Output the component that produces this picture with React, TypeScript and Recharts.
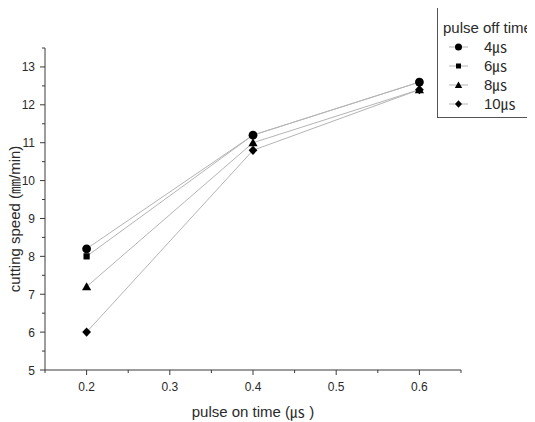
import React from 'react';
import { LineChart, Line, XAxis, YAxis, Legend } from 'recharts';

const pulseOnTime = [0.2, 0.4, 0.6];
const off4 = [8.2, 11.2, 12.6];
const off6 = [8.0, 11.2, 12.6];
const off8 = [7.2, 11.0, 12.4];
const off10 = [6.0, 10.8, 12.4];
const seriesNames = ['4㎲', '6㎲', '8㎲', '10㎲'];
const seriesKeys = ['s4', 's6', 's8', 's10'];
const seriesShapes = ['circle', 'square', 'triangle', 'diamond'];

const xTicks = [0.15, 0.2, 0.25, 0.3, 0.35, 0.4, 0.45, 0.5, 0.55, 0.6, 0.65];
const xTickLabels = ['', '0.2', '', '0.3', '', '0.4', '', '0.5', '', '0.6', ''];
const yTicks = [5, 5.5, 6, 6.5, 7, 7.5, 8, 8.5, 9, 9.5, 10, 10.5, 11, 11.5, 12, 12.5, 13, 13.5];
const yTickLabels = ['5', '', '6', '', '7', '', '8', '', '9', '', '10', '', '11', '', '12', '', '13', ''];

const data = pulseOnTime.map((x, i) => ({ x, s4: off4[i], s6: off6[i], s8: off8[i], s10: off10[i] }));

const FONT = 'Arial, "Liberation Sans", "Noto Sans CJK SC", sans-serif';
const AXIS = '#3a3a3a';
const LINE = '#b4b4b4';
const TEXT = '#2a2a2a';

function Marker({ shape, cx, cy, r }: { shape: string; cx: number; cy: number; r: number }) {
  if (shape === 'circle') return <circle cx={cx} cy={cy} r={r * 1.1} fill="#000" />;
  if (shape === 'square') return <rect x={cx - r * 0.78} y={cy - r * 0.78} width={r * 1.56} height={r * 1.56} fill="#000" />;
  if (shape === 'triangle')
    return <polygon points={`${cx},${cy - r * 1.1} ${cx + r * 1.15},${cy + r * 0.9} ${cx - r * 1.15},${cy + r * 0.9}`} fill="#000" />;
  return <polygon points={`${cx},${cy - r * 1.15} ${cx + r * 1.1},${cy} ${cx},${cy + r * 1.15} ${cx - r * 1.1},${cy}`} fill="#000" />;
}

const makeDot = (shape: string) => (props: any) => {
  const { cx, cy, index } = props;
  if (cx == null || cy == null) return <g key={`${shape}-${index}`} />;
  return (
    <g key={`${shape}-${index}`}>
      <Marker shape={shape} cx={cx} cy={cy} r={4} />
    </g>
  );
};

const XTick = (props: any) => {
  const { x, y, index } = props;
  const label = xTickLabels[index] ?? '';
  const major = label !== '';
  return (
    <g>
      <line x1={x} y1={y} x2={x} y2={y + (major ? 5 : 3)} stroke={AXIS} strokeWidth={1} />
      {major && (
        <text x={x} y={y + 21} textAnchor="middle" fontSize={12} fontFamily={FONT} fill={TEXT}>
          {label}
        </text>
      )}
    </g>
  );
};

const YTick = (props: any) => {
  const { x, y, index } = props;
  const label = yTickLabels[index] ?? '';
  const major = label !== '';
  return (
    <g>
      <line x1={x} y1={y} x2={x - (major ? 5 : 3)} y2={y} stroke={AXIS} strokeWidth={1} />
      {major && (
        <text x={x - 10} y={y + 4.5} textAnchor="end" fontSize={12} fontFamily={FONT} fill={TEXT}>
          {label}
        </text>
      )}
    </g>
  );
};

const LegendBox = () => (
  <svg width={98} height={113} style={{ overflow: 'visible', display: 'block' }}>
    <rect x={0.5} y={0.5} width={96} height={112} fill="#fff" stroke="#555" strokeWidth={1} />
    <text x={6} y={28} fontSize={15} fontFamily={FONT} fill={TEXT}>
      pulse off time
    </text>
    {seriesNames.map((name, i) => {
      const cy = 42 + i * 19;
      return (
        <g key={name}>
          <line x1={12} y1={cy} x2={31} y2={cy} stroke={LINE} strokeWidth={1} />
          <Marker shape={seriesShapes[i]} cx={21.5} cy={cy} r={3.2} />
          <text x={47} y={cy + 5} fontSize={15} fontFamily={FONT} fill={TEXT}>
            {name}
          </text>
        </g>
      );
    })}
  </svg>
);

const drawOrder = [3, 2, 1, 0];

export default function App() {
  return (
    <div style={{ marginTop: -8, marginLeft: -8, width: 535, height: 422, background: '#fff' }}>
      <LineChart width={535} height={422} data={data} margin={{ top: 48, right: 74, bottom: 0, left: 0 }}>
        <XAxis
          type="number"
          dataKey="x"
          domain={[0.15, 0.65]}
          ticks={xTicks}
          interval={0}
          tickSize={0}
          tickMargin={0}
          tick={<XTick />}
          axisLine={{ stroke: AXIS, strokeWidth: 1 }}
          height={52}
          allowDataOverflow
          label={{
            content: () => (
              <text x={253} y={417} textAnchor="middle" fontSize={15} fontFamily={FONT} fill={TEXT}>
                pulse on time (㎲ )
              </text>
            ),
          }}
        />
        <YAxis
          type="number"
          domain={[5, 13.5]}
          ticks={yTicks}
          interval={0}
          tickSize={0}
          tickMargin={0}
          tick={<YTick />}
          axisLine={{ stroke: AXIS, strokeWidth: 1 }}
          width={45}
          allowDataOverflow
          label={{
            content: () => (
              <text
                x={14}
                y={219}
                transform="rotate(-90 14 219)"
                textAnchor="middle"
                dominantBaseline="central"
                fontSize={15}
                fontFamily={FONT}
                fill={TEXT}
              >
                cutting speed (㎜/min)
              </text>
            ),
          }}
        />
        <Legend
          layout="vertical"
          align="center"
          verticalAlign="middle"
          content={() => <LegendBox />}
          wrapperStyle={{ position: 'absolute', left: 437, top: 5, width: 98, height: 113 }}
        />
        {drawOrder.map((i) => (
          <Line
            key={seriesKeys[i]}
            type="linear"
            dataKey={seriesKeys[i]}
            name={seriesNames[i]}
            stroke={LINE}
            strokeWidth={1}
            dot={makeDot(seriesShapes[i])}
            activeDot={false}
            isAnimationActive={false}
          />
        ))}
      </LineChart>
    </div>
  );
}
